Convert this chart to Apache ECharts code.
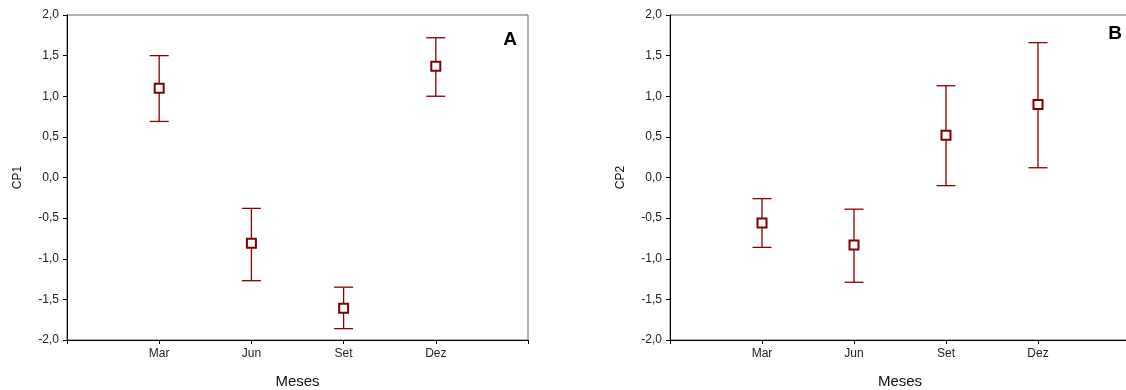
<!DOCTYPE html>
<html>
<head>
<meta charset="utf-8">
<script src="https://cdn.jsdelivr.net/npm/echarts@6/dist/echarts.min.js"></script>
<style>html,body{margin:0;padding:0;background:#fff}#c{width:1126px;height:390px}</style>
</head>
<body>
<div id="c"></div>
<script>
var categories = ['', 'Mar', 'Jun', 'Set', 'Dez', ''];
var months = ['Mar', 'Jun', 'Set', 'Dez'];
var cp1Mean  = [1.10, -0.81, -1.61, 1.37];
var cp1Upper = [1.50, -0.38, -1.35, 1.72];
var cp1Lower = [0.69, -1.27, -1.86, 1.00];
var cp2Mean  = [-0.56, -0.83, 0.52, 0.90];
var cp2Upper = [-0.26, -0.39, 1.13, 1.66];
var cp2Lower = [-0.86, -1.29, -0.10, 0.12];
var yTicks = [-2, -1.5, -1, -0.5, 0, 0.5, 1, 1.5, 2];

var FONT = 'Liberation Sans, Arial, sans-serif';
var RED = '#800000';
var BAR = '#8b0000';

function errData(lo, hi) {
  return months.map(function (m, i) { return [categories.indexOf(m), lo[i], hi[i]]; });
}
function meanData(mean) {
  return months.map(function (m, i) { return [categories.indexOf(m), mean[i]]; });
}
function renderErr(params, api) {
  var x = api.value(0);
  var lo = api.coord([x, api.value(1)]);
  var hi = api.coord([x, api.value(2)]);
  var hw = 9.5;
  var st = { stroke: BAR, lineWidth: 1.3 };
  return {
    type: 'group',
    children: [
      { type: 'line', shape: { x1: lo[0], y1: lo[1], x2: hi[0], y2: hi[1] }, style: st },
      { type: 'line', shape: { x1: hi[0] - hw, y1: hi[1], x2: hi[0] + hw, y2: hi[1] }, style: st },
      { type: 'line', shape: { x1: lo[0] - hw, y1: lo[1], x2: lo[0] + hw, y2: lo[1] }, style: st }
    ]
  };
}
function xAxis(idx) {
  return {
    type: 'category', gridIndex: idx, data: categories, boundaryGap: false,
    name: 'Meses', nameLocation: 'middle', nameGap: 34,
    nameTextStyle: { fontFamily: FONT, fontSize: 15, color: '#111' },
    axisLine: { show: true, onZero: false, lineStyle: { color: '#000', width: 1 } },
    axisTick: { show: true, length: 4, interval: 0, alignWithLabel: true, lineStyle: { color: '#000' } },
    axisLabel: { interval: 0, margin: 8, fontFamily: FONT, fontSize: 12, color: '#222' },
    splitLine: { show: false }
  };
}
function yAxis(idx, name) {
  return {
    type: 'value', gridIndex: idx, min: -2, max: 2, interval: 0.5,
    name: name, nameLocation: 'middle', nameGap: 43,
    nameTextStyle: { fontFamily: FONT, fontSize: 12, color: '#111' },
    axisLine: { show: true, onZero: false, lineStyle: { color: '#000', width: 1 } },
    axisTick: { show: true, length: 4, lineStyle: { color: '#000' } },
    axisLabel: {
      margin: 8, fontFamily: FONT, fontSize: 12, color: '#222',
      formatter: function (v) { return (Math.abs(v) < 1e-9 ? 0 : v).toFixed(1).replace('.', ','); }
    },
    splitLine: { show: false }
  };
}
var chart = echarts.init(document.getElementById('c'), null, { renderer: 'canvas' });
chart.setOption({
  animation: false,
  backgroundColor: '#fff',
  grid: [
    { left: 67, top: 15, width: 461, height: 325, outerBoundsMode: 'none', containLabel: false, show: true, borderColor: '#666', borderWidth: 1, backgroundColor: 'transparent' },
    { left: 670, top: 15, width: 460, height: 325, outerBoundsMode: 'none', containLabel: false, show: true, borderColor: '#666', borderWidth: 1, backgroundColor: 'transparent' }
  ],
  xAxis: [xAxis(0), xAxis(1)],
  yAxis: [yAxis(0, 'CP1'), yAxis(1, 'CP2')],
  graphic: [
    { type: 'text', x: 510, y: 40, style: { text: 'A', font: 'bold 19px ' + FONT, fill: '#000', textAlign: 'center', textVerticalAlign: 'middle' } },
    { type: 'text', x: 1115, y: 34, style: { text: 'B', font: 'bold 19px ' + FONT, fill: '#000', textAlign: 'center', textVerticalAlign: 'middle' } }
  ],
  series: [
    { type: 'custom', xAxisIndex: 0, yAxisIndex: 0, renderItem: renderErr, data: errData(cp1Lower, cp1Upper), z: 2 },
    { type: 'scatter', xAxisIndex: 0, yAxisIndex: 0, symbol: 'rect', symbolSize: 9, data: meanData(cp1Mean), z: 3,
      itemStyle: { color: '#fff', borderColor: RED, borderWidth: 2, opacity: 1 } },
    { type: 'custom', xAxisIndex: 1, yAxisIndex: 1, renderItem: renderErr, data: errData(cp2Lower, cp2Upper), z: 2 },
    { type: 'scatter', xAxisIndex: 1, yAxisIndex: 1, symbol: 'rect', symbolSize: 9, data: meanData(cp2Mean), z: 3,
      itemStyle: { color: '#fff', borderColor: RED, borderWidth: 2, opacity: 1 } }
  ]
});
</script>
</body>
</html>
